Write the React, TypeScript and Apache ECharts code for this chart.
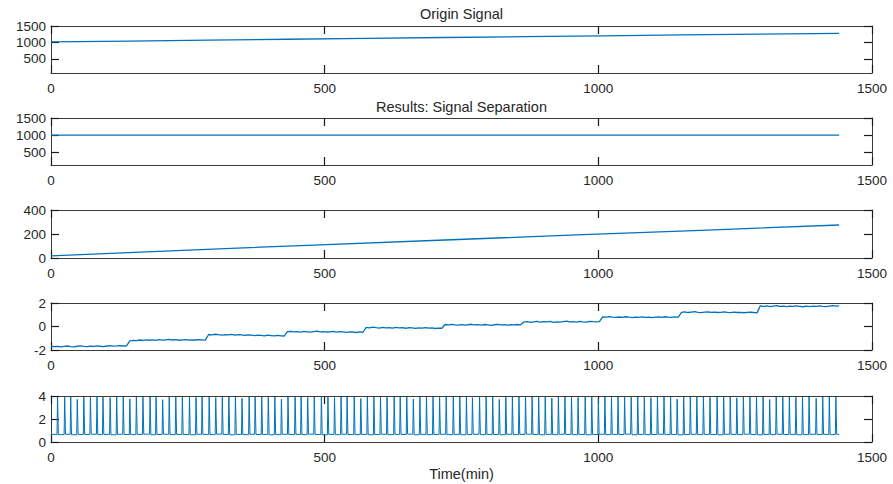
import React, { useEffect, useRef } from "react";
import * as echarts from "echarts";

// ---------- data ----------
const xTicks = [0, 500, 1000, 1500];

// Panel 1: origin signal (minutes, value)
const originT = [0, 144, 288, 432, 576, 720, 864, 1008, 1152, 1296, 1440];
const originV = [1016, 1044, 1071, 1098, 1124, 1151, 1177, 1203, 1228, 1253, 1277];

// Panel 2: constant component
const constT = [0, 1440];
const constV = [1000, 1000];

// Panel 3: trend component
const trendT = [0, 240, 480, 720, 960, 1200, 1440];
const trendV = [18, 64, 108, 150, 192, 233, 275];

// Panel 4: step component, sampled every 6 minutes (0..1440)
const stepV = [
  -1.68, -1.72, -1.70, -1.74, -1.69, -1.66, -1.71, -1.73, -1.68, -1.65, -1.70, -1.72, -1.67, -1.69, -1.64, -1.68, -1.71, -1.66, -1.63, -1.67, -1.65, -1.62, -1.66, -1.64,
  -1.22, -1.18, -1.20, -1.15, -1.19, -1.13, -1.17, -1.14, -1.18, -1.12, -1.16, -1.13, -1.10, -1.15, -1.12, -1.17, -1.14, -1.11, -1.16, -1.13, -1.15, -1.12, -1.14, -1.16,
  -0.68, -0.72, -0.66, -0.70, -0.73, -0.69, -0.71, -0.67, -0.74, -0.70, -0.72, -0.76, -0.71, -0.74, -0.77, -0.73, -0.75, -0.79, -0.74, -0.77, -0.80, -0.76, -0.79, -0.81,
  -0.44, -0.41, -0.46, -0.43, -0.47, -0.42, -0.45, -0.48, -0.44, -0.40, -0.46, -0.43, -0.47, -0.45, -0.42, -0.48, -0.44, -0.46, -0.50, -0.45, -0.47, -0.51, -0.46, -0.49,
  -0.08, -0.12, -0.06, -0.10, -0.13, -0.07, -0.11, -0.09, -0.14, -0.08, -0.12, -0.10, -0.15, -0.09, -0.12, -0.16, -0.11, -0.13, -0.09, -0.14, -0.12, -0.17, -0.13, -0.15,
  0.17, 0.13, 0.18, 0.14, 0.11, 0.16, 0.12, 0.15, 0.19, 0.13, 0.16, 0.12, 0.17, 0.14, 0.10, 0.15, 0.18, 0.13, 0.16, 0.11, 0.15, 0.13, 0.17, 0.14,
  0.38, 0.42, 0.36, 0.40, 0.44, 0.37, 0.41, 0.39, 0.43, 0.36, 0.40, 0.38, 0.42, 0.45, 0.39, 0.41, 0.37, 0.43, 0.40, 0.38, 0.44, 0.41, 0.39, 0.42,
  0.82, 0.79, 0.84, 0.80, 0.77, 0.81, 0.78, 0.83, 0.79, 0.76, 0.80, 0.78, 0.82, 0.77, 0.80, 0.75, 0.79, 0.81, 0.77, 0.83, 0.80, 0.78, 0.82, 0.79,
  1.20, 1.24, 1.19, 1.23, 1.26, 1.21, 1.18, 1.22, 1.25, 1.20, 1.23, 1.19, 1.21, 1.24, 1.20, 1.18, 1.22, 1.19, 1.21, 1.17, 1.20, 1.23, 1.19, 1.16,
  1.76, 1.72, 1.75, 1.70, 1.74, 1.77, 1.71, 1.73, 1.69, 1.74, 1.71, 1.75, 1.72, 1.68, 1.73, 1.70, 1.74, 1.71, 1.76, 1.72, 1.69, 1.74, 1.78, 1.73,
  1.75,
];
const stepDt = 6;

// Panel 5: periodic spike component
const spikeTimes = [
  12, 25, 36, 48, 60, 72, 84, 95, 108, 120, 132, 144, 156, 168, 181, 192, 204, 216, 228, 240,
  253, 265, 276, 289, 301, 313, 325, 337, 349, 362, 373, 385, 397, 409, 421, 433, 446, 457, 469, 481,
  494, 506, 518, 530, 541, 554, 566, 578, 590, 602, 614, 627, 638, 650, 662, 674, 686, 698, 710, 722,
  735, 747, 759, 770, 783, 795, 807, 819, 831, 843, 855, 867, 879, 891, 903, 915, 927, 939, 951, 963,
  976, 988, 1000, 1012, 1024, 1036, 1048, 1060, 1072, 1084, 1096, 1108, 1120, 1132, 1144, 1156, 1168, 1180, 1192, 1204,
  1217, 1229, 1241, 1253, 1265, 1277, 1289, 1301, 1313, 1325, 1337, 1349, 1361, 1373, 1385, 1398, 1410, 1422, 1434,
];
const spikePeaks = [
  3.92, 3.90, 3.93, 3.70, 3.91, 3.88, 3.92, 3.90, 3.86, 3.93, 3.91, 3.75, 3.92, 3.90, 3.93, 3.89, 3.68, 3.92, 3.91, 3.90,
  3.93, 3.88, 3.91, 3.92, 3.86, 3.90, 3.93, 3.91, 3.80, 3.92, 3.90, 3.93, 3.89, 3.91, 3.72, 3.92, 3.90, 3.93, 3.88, 3.91,
  3.92, 3.90, 3.86, 3.93, 3.91, 3.92, 3.78, 3.90, 3.93, 3.91, 3.89, 3.92, 3.90, 3.93, 3.74, 3.91, 3.92, 3.90, 3.88, 3.93,
  3.91, 3.92, 3.90, 3.85, 3.93, 3.91, 3.92, 3.70, 3.90, 3.93, 3.91, 3.89, 3.92, 3.90, 3.93, 3.82, 3.91, 3.92, 3.90, 3.88,
  3.93, 3.91, 3.76, 3.92, 3.90, 3.93, 3.91, 3.89, 3.92, 3.90, 3.86, 3.93, 3.91, 3.92, 3.73, 3.90, 3.93, 3.91, 3.92, 3.88,
  3.90, 3.93, 3.91, 3.84, 3.92, 3.90, 3.93, 3.91, 3.70, 3.92, 3.90, 3.93, 3.89, 3.91, 3.92, 3.80, 3.90, 3.93, 3.91,
];
const spikeBase = [
  0.66, 0.64, 0.67, 0.63, 0.66, 0.65, 0.68, 0.64, 0.66, 0.63, 0.67, 0.65, 0.64, 0.66, 0.68, 0.63, 0.65, 0.67, 0.64, 0.66,
  0.65, 0.63, 0.67, 0.66, 0.64, 0.68, 0.65, 0.63, 0.66, 0.64, 0.67, 0.65, 0.66, 0.63, 0.64, 0.67, 0.65, 0.66, 0.64, 0.68,
  0.65, 0.63, 0.66, 0.64, 0.67, 0.65, 0.64, 0.66, 0.63, 0.65, 0.67, 0.64, 0.66, 0.65, 0.68, 0.63, 0.66, 0.64, 0.65, 0.67,
  0.64, 0.66, 0.63, 0.65, 0.67, 0.64, 0.66, 0.65, 0.63, 0.67, 0.64, 0.66, 0.68, 0.65, 0.63, 0.66, 0.64, 0.67, 0.65, 0.64,
  0.66, 0.63, 0.65, 0.67, 0.64, 0.66, 0.65, 0.68, 0.63, 0.66, 0.64, 0.65, 0.67, 0.64, 0.66, 0.63, 0.65, 0.67, 0.64, 0.66,
  0.65, 0.63, 0.67, 0.66, 0.64, 0.68, 0.65, 0.63, 0.66, 0.64, 0.67, 0.65, 0.66, 0.63, 0.64, 0.67, 0.65, 0.66, 0.64, 0.67,
];

const yLimits = [
  { min: 75, max: 1500, ticks: [500, 1000, 1500] },
  { min: 125, max: 1500, ticks: [500, 1000, 1500] },
  { min: 0, max: 400, ticks: [0, 200, 400] },
  { min: -2, max: 2, ticks: [-2, 0, 2] },
  { min: 0, max: 4, ticks: [0, 2, 4] },
];

const titles = ["Origin Signal", "Results: Signal Separation"];
const xLabelText = "Time(min)";

// ---------- layout / style ----------
const W = 893;
const H = 484;
const gridTops = [26, 118, 210, 303, 396];
const gridHeights = [47, 47, 48, 47, 46];
const LEFT = 51;
const RIGHT = 21;
const LINE = "#0072BD";
const AX = "#3a3a3a";
const TXT = "#262626";
const FONT = "'Liberation Sans', Arial, Helvetica, sans-serif";

function pairs(t: number[], v: number[]) {
  return t.map((x, i) => [x, v[i]]);
}

function buildSpikes() {
  const d: number[][] = [[0, spikeBase[0]]];
  spikeTimes.forEach((t, i) => {
    d.push([t - 1, spikeBase[i]]);
    d.push([t, spikePeaks[i]]);
    d.push([t + 1.5, spikeBase[i + 1]]);
  });
  d.push([1440, spikeBase[spikeBase.length - 1]]);
  return d;
}

const plain = (v: number) => String(v);

export default function App() {
  const ref = useRef<HTMLDivElement>(null);
  useEffect(() => {
    if (!ref.current) return;
    const chart = echarts.init(ref.current, undefined, { renderer: "svg", width: W, height: H });

    const seriesData = [
      pairs(originT, originV),
      pairs(constT, constV),
      pairs(trendT, trendV),
      stepV.map((v, i) => [i * stepDt, v]),
      buildSpikes(),
    ];

    const grid = gridTops.map((top, i) => ({ left: LEFT, right: RIGHT, top, height: gridHeights[i] }));
    const xAxis: any[] = [];
    const yAxis: any[] = [];
    gridTops.forEach((_, i) => {
      ["bottom", "top"].forEach((pos) => {
        xAxis.push({
          type: "value",
          gridIndex: i,
          position: pos,
          min: 0,
          max: 1500,
          interval: 500,
          axisLine: { show: true, onZero: false, lineStyle: { color: AX, width: 1 } },
          axisTick: { show: true, inside: true, length: 8, customValues: xTicks, lineStyle: { color: "#1a1a1a", width: 1.2 } },
          axisLabel: {
            show: pos === "bottom",
            customValues: xTicks,
            formatter: plain,
            color: TXT,
            fontSize: 13.5,
            fontFamily: FONT,
            margin: 8,
            showMinLabel: true,
            showMaxLabel: true,
          },
          splitLine: { show: false },
        });
      });
      const yl = yLimits[i];
      ["left", "right"].forEach((pos) => {
        yAxis.push({
          type: "value",
          gridIndex: i,
          position: pos,
          min: yl.min,
          max: yl.max,
          axisLine: { show: true, onZero: false, lineStyle: { color: AX, width: 1 } },
          axisTick: { show: true, inside: true, length: 8, customValues: yl.ticks, lineStyle: { color: "#1a1a1a", width: 1.2 } },
          axisLabel: {
            show: pos === "left",
            customValues: yl.ticks,
            formatter: plain,
            color: TXT,
            fontSize: 13.5,
            fontFamily: FONT,
            margin: 5,
            showMinLabel: true,
            showMaxLabel: true,
          },
          splitLine: { show: false },
        });
      });
    });

    const series = seriesData.map((data, i) => ({
      type: "line",
      xAxisIndex: i * 2,
      yAxisIndex: i * 2,
      data,
      showSymbol: false,
      symbol: "none",
      silent: true,
      lineStyle: { color: LINE, width: i === 4 ? 1 : 1.3 },
    }));

    const cx = LEFT + (W - LEFT - RIGHT) / 2;
    chart.setOption({
      animation: false,
      backgroundColor: "#ffffff",
      grid,
      xAxis,
      yAxis,
      series,
      graphic: [
        { type: "text", x: cx, y: 14, style: { text: titles[0], fill: TXT, font: `14.5px ${FONT}`, textAlign: "center", textVerticalAlign: "middle" } },
        { type: "text", x: cx, y: 107, style: { text: titles[1], fill: TXT, font: `14.5px ${FONT}`, textAlign: "center", textVerticalAlign: "middle" } },
        { type: "text", x: cx, y: 474, style: { text: xLabelText, fill: TXT, font: `14.5px ${FONT}`, textAlign: "center", textVerticalAlign: "middle" } },
      ],
    });
    return () => chart.dispose();
  }, []);

  return <div ref={ref} style={{ position: "fixed", left: 0, top: 0, width: W, height: H, background: "#fff" }} />;
}
